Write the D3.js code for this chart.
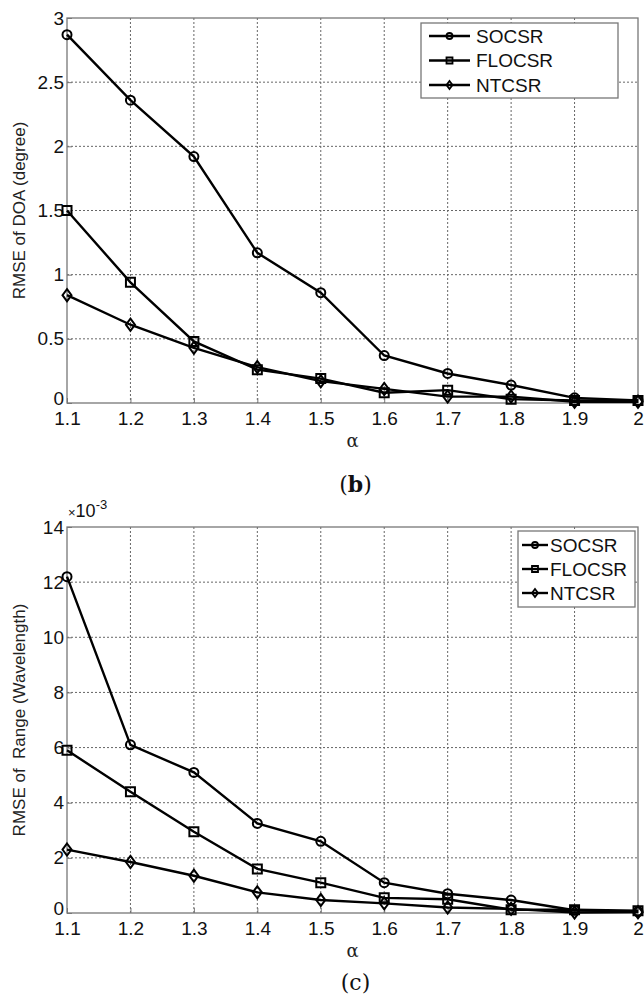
<!DOCTYPE html>
<html>
<head>
<meta charset="utf-8">
<script src="https://cdn.jsdelivr.net/npm/d3@7"></script>
<style>
  body { margin: 0; background: #fff; }
  svg { display: block; font-family: "Liberation Sans", Arial, sans-serif; }
</style>
</head>
<body>
<div id="chart"></div>
<script>
var alphas = [1.1, 1.2, 1.3, 1.4, 1.5, 1.6, 1.7, 1.8, 1.9, 2.0];
var seriesNames = ["SOCSR", "FLOCSR", "NTCSR"];
var markerTypes = ["circle", "square", "diamond"];

// panel (b): RMSE of DOA (degree)
var doaSOCSR  = [2.87, 2.36, 1.92, 1.17, 0.86, 0.37, 0.23, 0.14, 0.04, 0.02];
var doaFLOCSR = [1.50, 0.94, 0.48, 0.26, 0.19, 0.08, 0.10, 0.03, 0.02, 0.02];
var doaNTCSR  = [0.84, 0.61, 0.43, 0.28, 0.17, 0.11, 0.05, 0.05, 0.01, 0.01];
var doaTicks  = [0, 0.5, 1, 1.5, 2, 2.5, 3];

// panel (c): RMSE of Range (Wavelength), x10^-3
var rngSOCSR  = [12.2, 6.1, 5.1, 3.25, 2.6, 1.1, 0.7, 0.47, 0.1, 0.05];
var rngFLOCSR = [5.9, 4.4, 2.95, 1.6, 1.1, 0.55, 0.5, 0.12, 0.12, 0.08];
var rngNTCSR  = [2.3, 1.85, 1.35, 0.75, 0.47, 0.35, 0.2, 0.15, 0.02, 0.03];
var rngTicks  = [0, 2, 4, 6, 8, 10, 12, 14];

var xTicks = [1.1, 1.2, 1.3, 1.4, 1.5, 1.6, 1.7, 1.8, 1.9, 2];

var svg = d3.select("#chart").append("svg")
  .attr("width", 644)
  .attr("height", 999);

function drawPanel(p) {
  var g = svg.append("g");

  var x = d3.scaleLinear().domain([1.1, 2]).range([p.left, p.right]);
  var y = d3.scaleLinear().domain([0, p.ymax]).range([p.bottom, p.top]);

  // grid
  g.append("g").selectAll("line").data(xTicks.slice(1, -1)).join("line")
    .attr("x1", d => x(d)).attr("x2", d => x(d))
    .attr("y1", p.top).attr("y2", p.bottom)
    .attr("stroke", "#666").attr("stroke-width", 1).attr("stroke-dasharray", "2,2");
  g.append("g").selectAll("line").data(p.yTicks.slice(1, -1)).join("line")
    .attr("x1", p.left).attr("x2", p.right)
    .attr("y1", d => y(d)).attr("y2", d => y(d))
    .attr("stroke", "#666").attr("stroke-width", 1).attr("stroke-dasharray", "2,2");

  // box
  g.append("rect")
    .attr("x", p.left).attr("y", p.top)
    .attr("width", p.right - p.left).attr("height", p.bottom - p.top)
    .attr("fill", "none").attr("stroke", "#777").attr("stroke-width", 1.3);

  // axes
  var xAxis = g.append("g")
    .attr("transform", "translate(0," + p.bottom + ")")
    .call(d3.axisBottom(x).tickValues(xTicks).tickSize(-5).tickPadding(8)
      .tickFormat(d3.format("~g")));
  var yAxis = g.append("g")
    .attr("transform", "translate(" + p.left + ",0)")
    .call(d3.axisLeft(y).tickValues(p.yTicks).tickSize(-5).tickPadding(3)
      .tickFormat(d3.format("~g")));
  [xAxis, yAxis].forEach(function(a) {
    a.select(".domain").remove();
    a.selectAll("line").attr("stroke", "#777");
    a.selectAll("text").attr("fill", "#111").style("font-size", "19px");
  });
  xAxis.selectAll("text").attr("dy", "0.72em");
  // lift the "0" a little so it clears the first x label
  yAxis.selectAll(".tick").filter(d => d === 0).select("text").attr("dy", "0.1em");

  // labels
  g.append("text")
    .attr("x", (p.left + p.right) / 2).attr("y", p.bottom + 44)
    .attr("text-anchor", "middle")
    .style("font-family", "'DejaVu Serif', serif").style("font-size", "18px")
    .attr("fill", "#222")
    .text("α");
  g.append("text")
    .attr("transform", "translate(" + 25 + "," + ((p.top + p.bottom) / 2) + ") rotate(-90)")
    .attr("text-anchor", "middle")
    .style("font-size", "17px").attr("fill", "#222")
    .style("white-space", "pre")
    .attr("xml:space", "preserve")
    .text(p.ylabel);

  if (p.exponent) {
    var ex = g.append("text")
      .attr("x", p.left + 1).attr("y", p.top - 10)
      .style("font-size", "18px").attr("fill", "#111");
    ex.append("tspan").style("font-size", "13px").text("×");
    ex.append("tspan").text("10");
    ex.append("tspan").attr("dy", -8).style("font-size", "13px").text("-3");
  }

  // caption
  var cap = g.append("text")
    .attr("x", (p.left + p.right) / 2 + 3).attr("y", p.caption)
    .attr("text-anchor", "middle")
    .style("font-family", "'DejaVu Serif', 'Liberation Serif', serif")
    .style("font-size", "22px").attr("fill", "#111");
  cap.append("tspan").text("(");
  cap.append("tspan").style("font-weight", p.captionBold ? "bold" : "normal").text(p.captionLetter);
  cap.append("tspan").text(")");

  // lines and markers
  var line = d3.line().x((d, i) => x(alphas[i])).y(d => y(d));
  p.series.forEach(function(vals, si) {
    g.append("path").datum(vals)
      .attr("d", line)
      .attr("fill", "none").attr("stroke", "#000").attr("stroke-width", 2.4);
    g.append("g").selectAll("path").data(vals).join("path")
      .attr("transform", (d, i) => "translate(" + x(alphas[i]) + "," + y(d) + ")")
      .attr("d", markerPath(markerTypes[si], 4.5))
      .attr("fill", "none").attr("stroke", "#000").attr("stroke-width", 2);
  });

  // legend
  var L = p.legend;
  g.append("rect")
    .attr("x", L.x).attr("y", L.y).attr("width", L.w).attr("height", L.h)
    .attr("fill", "#fff").attr("stroke", "#777").attr("stroke-width", 1.3);
  seriesNames.forEach(function(name, i) {
    var ry = L.y + L.row0 + i * L.step;
    g.append("line")
      .attr("x1", L.x + L.l1).attr("x2", L.x + L.l2)
      .attr("y1", ry).attr("y2", ry)
      .attr("stroke", "#000").attr("stroke-width", 2.4);
    g.append("path")
      .attr("transform", "translate(" + (L.x + (L.l1 + L.l2) / 2) + "," + ry + ")")
      .attr("d", markerPath(markerTypes[i], 3))
      .attr("fill", "none").attr("stroke", "#000").attr("stroke-width", 1.8);
    g.append("text")
      .attr("x", L.x + L.tx).attr("y", ry).attr("dy", "0.36em")
      .style("font-size", "19px").attr("fill", "#111")
      .text(name);
  });
}

function markerPath(type, r) {
  if (type === "circle") {
    return "M" + (-r) + ",0A" + r + "," + r + " 0 1,0 " + r + ",0A" + r + "," + r + " 0 1,0 " + (-r) + ",0Z";
  }
  if (type === "square") {
    return "M" + (-r) + "," + (-r) + "H" + r + "V" + r + "H" + (-r) + "Z";
  }
  var d = r * 1.35;
  return "M0," + (-d) + "L" + r + ",0L0," + d + "L" + (-r) + ",0Z";
}

drawPanel({
  left: 67, right: 638, top: 18, bottom: 403,
  ymax: 3, yTicks: doaTicks,
  series: [doaSOCSR, doaFLOCSR, doaNTCSR],
  ylabel: "RMSE of DOA (degree)",
  caption: 492, captionLetter: "b", captionBold: true,
  legend: { x: 421, y: 23, w: 197, h: 75, row0: 13, step: 24.5, l1: 8, l2: 49, tx: 55 }
});

drawPanel({
  left: 67, right: 638, top: 527, bottom: 913,
  ymax: 14, yTicks: rngTicks,
  series: [rngSOCSR, rngFLOCSR, rngNTCSR],
  ylabel: "RMSE of  Range (Wavelength)",
  exponent: true,
  caption: 990, captionLetter: "c", captionBold: false,
  legend: { x: 518, y: 531, w: 117, h: 76, row0: 14, step: 24, l1: 4, l2: 30, tx: 32 }
});
</script>
</body>
</html>
